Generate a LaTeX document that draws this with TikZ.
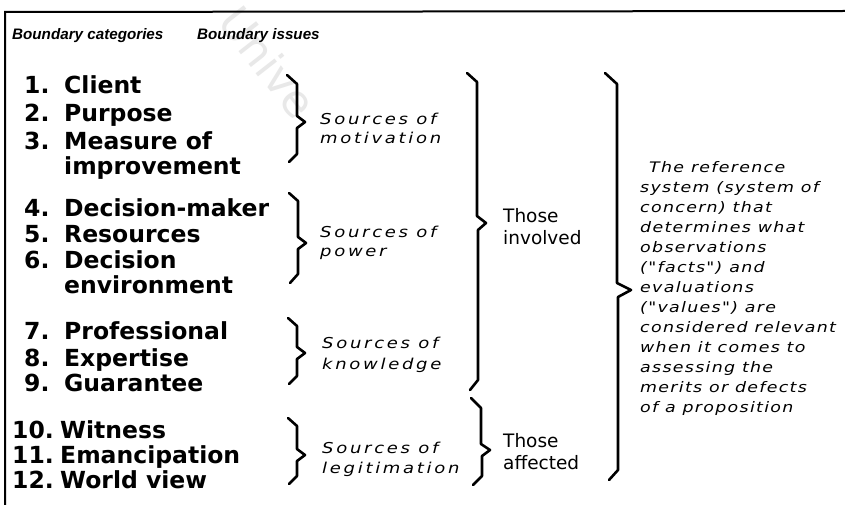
\documentclass[tikz,border=0pt]{standalone}
\usepackage{fontspec}
\newfontfamily\itemfont{DejaVu Sans}
\newfontfamily\plainfont{DejaVu Sans}
\newfontfamily\srcfont{DejaVu Sans}[FakeStretch=1.2, LetterSpace=18]
\newfontfamily\notefont{DejaVu Sans}[FakeStretch=1.2, LetterSpace=9]
\newfontfamily\headfont{Liberation Sans}
\newcommand{\catnum}[2][40pt]{\makebox[#1][l]{#2}}
\begin{document}
\begin{tikzpicture}[x=1pt,y=-1pt,
  cat/.style={font=\itemfont\bfseries\fontsize{23.5}{25}\selectfont, anchor=base west, inner sep=0pt},
  issue/.style={font=\srcfont\itshape\fontsize{15}{18}\selectfont, anchor=base west, inner sep=0pt},
  group/.style={font=\plainfont\fontsize{18.5}{20}\selectfont, anchor=base west, inner sep=0pt},
  note/.style={font=\notefont\itshape\fontsize{14.5}{20}\selectfont, anchor=base west, inner sep=0pt},
  head/.style={font=\headfont\bfseries\itshape\fontsize{15.2}{18}\selectfont, anchor=base west, inner sep=0pt},
  bracepath/.style={line width=2.6pt, line join=round, line cap=round},
]
\useasboundingbox (0,0) rectangle (845,505);
\fill[white] (0,0) rectangle (845,505);

% faint watermark
\node[font=\plainfont\fontsize{44}{44}\selectfont, text=black!9, rotate=-52] (wm) at (268,62) {Unive};

% frame: top rule and left rule
\draw[line width=2pt] (845,11) -- (5,12) -- (5,505);

% column headings
\node[head] (h1) at (12,40) {Boundary categories};
\node[head] (h2) at (197,40) {Boundary issues};

% boundary categories
\node[cat] (c1)  at (24,94)  {\catnum{1.}Client};
\node[cat] (c2)  at (24,122) {\catnum{2.}Purpose};
\node[cat] (c3)  at (24,150) {\catnum{3.}Measure of};
\node[cat] (c3b) at (64,175) {improvement};
\node[cat] (c4)  at (24,216) {\catnum{4.}Decision-maker};
\node[cat] (c5)  at (24,242) {\catnum{5.}Resources};
\node[cat] (c6)  at (24,268) {\catnum{6.}Decision};
\node[cat] (c6b) at (64,293) {environment};
\node[cat] (c7)  at (24,339) {\catnum{7.}Professional};
\node[cat] (c8)  at (24,366) {\catnum{8.}Expertise};
\node[cat] (c9)  at (24,391) {\catnum{9.}Guarantee};
\node[cat] (c10) at (12,438) {\catnum[48pt]{10.}Witness};
\node[cat] (c11) at (12,463) {\catnum[48pt]{11.}Emancipation};
\node[cat] (c12) at (12,488) {\catnum[48pt]{12.}World view};

% small braces
\draw[bracepath] (287,75) -- (297,84) -- (297,116) -- (305,122) -- (297,128) -- (297,154) -- (289,162);
\draw[bracepath] (289,193) -- (298,201) -- (298,237) -- (306,243) -- (298,249) -- (298,274) -- (290,283);
\draw[bracepath] (288,318) -- (297,326) -- (297,347) -- (305,353) -- (297,359) -- (297,376) -- (289,384);
\draw[bracepath] (288,418) -- (297,426) -- (297,449) -- (305,455) -- (297,461) -- (297,476) -- (289,484);

% boundary issues
\node[issue] (s1a) at (320,125) {Sources of};
\node[issue] (s1b) at (320,144) {motivation};
\node[issue] (s2a) at (320,237) {Sources of};
\node[issue] (s2b) at (320,256) {power};
\node[issue] (s3a) at (322,348) {Sources of};
\node[issue] (s3b) at (322,369) {knowledge};
\node[issue] (s4a) at (322,453) {Sources of};
\node[issue] (s4b) at (322,473) {legitimation};

% group braces
\draw[bracepath] (467,73) -- (477,82) -- (477,216) -- (486,223) -- (478,230) -- (478,380) -- (470,390);
\draw[bracepath] (471,398) -- (481,408) -- (481,444) -- (490,450) -- (482,456) -- (482,476) -- (473,485);

\node[group] (g1a) at (503,222) {Those};
\node[group] (g1b) at (503,244) {involved};
\node[group] (g2a) at (503,447) {Those};
\node[group] (g2b) at (503,469) {affected};

% outer brace
\draw[bracepath] (605,73) -- (617,84) -- (617,283) -- (631,290) -- (618,297) -- (618,470) -- (609,480);

% reference system note
\foreach \t [count=\i from 0] in {\hspace*{9pt}The reference, system (system of, concern) that, determines what, observations, ("facts") and, evaluations, ("values") are, considered relevant, when it comes to, assessing the, merits or defects, of a proposition}
  \node[note] (n\i) at (640,172+20*\i) {\t};
\end{tikzpicture}
\end{document}
